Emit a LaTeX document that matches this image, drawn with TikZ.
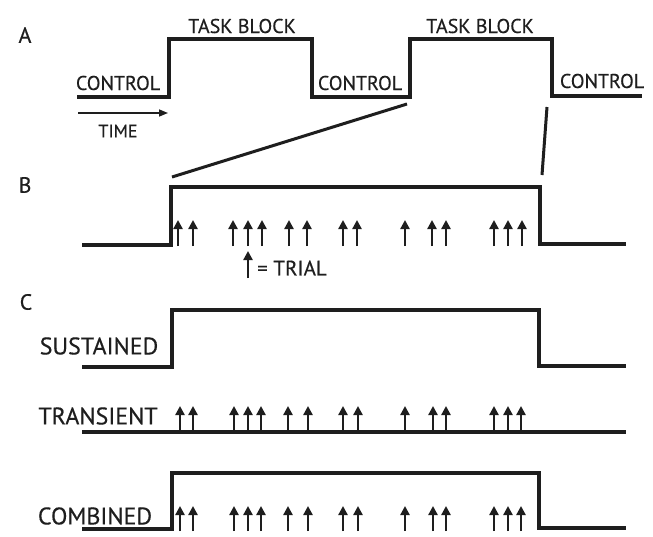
\documentclass[tikz,border=0pt]{standalone}
\usepackage{fontspec}
\setmainfont{PT Sans}
\newfontfamily\lblfont[FakeBold=0.35]{PT Sans}
\usetikzlibrary{arrows.meta}
\definecolor{ink}{HTML}{1E1E1E}
\tikzset{
  wave/.style={line width=4.5pt, line join=miter, ink},
  zoomline/.style={line width=3pt, ink},
  trial/.style={line width=2.3pt, ink, -{Triangle[width=9pt,length=9pt]}},
  lbl/.style={inner sep=0pt, text=ink, font=\lblfont\fontsize{20}{20}\selectfont},
  biglbl/.style={inner sep=0pt, text=ink, font=\lblfont\fontsize{24}{24}\selectfont},
  panel/.style={inner sep=0pt, text=ink, font=\lblfont\fontsize{22}{22}\selectfont},
}
\begin{document}
\begin{tikzpicture}[x=1pt,y=-1pt]
\useasboundingbox[fill=white] (0,0) rectangle (653,536);
% ---------- Panel A ----------
\node[panel] (pA) at (25,35) {A};
\draw[wave] (77,97) -- (169,97) -- (169,39) -- (312,39) -- (312,97) -- (410,97)
  -- (410,39) -- (552,39) -- (552,96) -- (642,96);
\node[lbl] (tb1) at (242,26) {TASK BLOCK};
\node[lbl] (tb2) at (480,26) {TASK BLOCK};
\node[lbl] (c1) at (118,83) {CONTROL};
\node[lbl] (c2) at (360,83) {CONTROL};
\node[lbl] (c3) at (602,81) {CONTROL};
\coordinate (t0) at (78,113);
\coordinate (t1) at (168,113);
\draw[line width=1.5pt, ink, -{Triangle[width=7pt,length=9pt]}] (t0) -- (t1);
\node[inner sep=0pt, text=ink, font=\lblfont\fontsize{18}{18}\selectfont] (time) at (118,131) {TIME};
% zoom lines
\coordinate (z1a) at (407,104);
\coordinate (z1b) at (172,177);
\coordinate (z2a) at (547,107);
\coordinate (z2b) at (542,175);
\draw[zoomline] (z1a) -- (z1b);
\draw[zoomline] (z2a) -- (z2b);
% ---------- Panel B ----------
\node[panel] (pB) at (25,185) {B};
\draw[wave] (82,245) -- (171,245) -- (171,187) -- (540,187) -- (540,244) -- (626,244);
\foreach \x in {178,193,233,248,262,289,307,343,357,405,432,446,494,508,522}
  \draw[trial] (\x,246) -- (\x,220);
\draw[trial] (248,278) -- (248,251);
\node[lbl, anchor=west, font=\lblfont\fontsize{21}{21}\selectfont] (trialtxt) at (257,268) {= TRIAL};
% ---------- Panel C ----------
\node[panel] (pC) at (26,302) {C};
% sustained
\draw[wave] (82,367) -- (172,367) -- (172,310) -- (539,310) -- (539,366) -- (626,366);
\node[biglbl] (sus) at (99,346) {SUSTAINED};
% transient
\draw[wave] (82,432) -- (626,432);
\foreach \x in {180,193,234,248,261,288,308,343,358,405,433,446,494,508,521}
  \draw[trial] (\x,432) -- (\x,406);
\node[biglbl] (tra) at (98,416) {TRANSIENT};
% combined
\draw[wave] (82,529) -- (172,529) -- (172,473) -- (539,473) -- (539,528) -- (626,528);
\foreach \x in {180,193,234,248,261,288,308,343,358,405,433,446,494,508,521}
  \draw[trial] (\x,531) -- (\x,506);
\node[biglbl] (com) at (95,516) {COMBINED};
\end{tikzpicture}
\end{document}
